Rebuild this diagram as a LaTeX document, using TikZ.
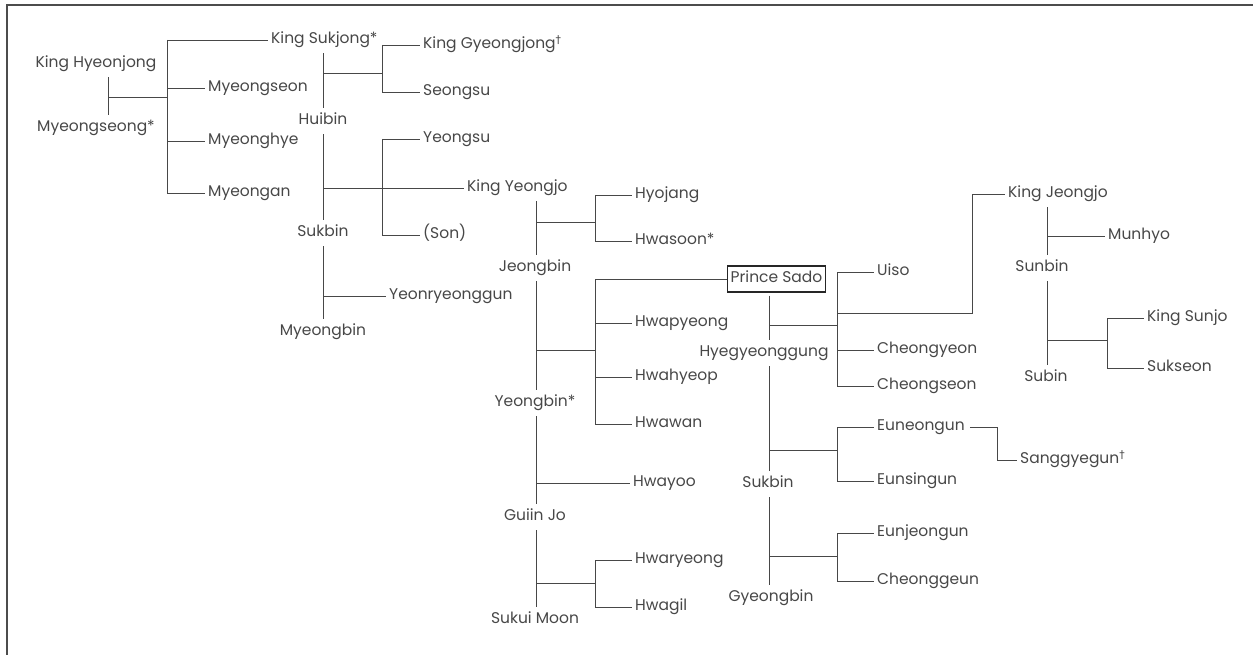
\documentclass[tikz,border=0pt]{standalone}
\usepackage{fontspec}
\setmainfont{Poppins}
\newfontfamily\symfont{DejaVu Sans}
\newcommand{\dg}{\textsuperscript{\symfont †}}
\tikzset{
  person/.style={font=\fontsize{15.5}{18}\selectfont, text=black!72, inner sep=3pt, text height=11pt, text depth=3.5pt},
  kid/.style={person, anchor=west},
  famline/.style={draw=black!72, line width=0.8pt},
  couple/.style={famline, shorten <=3pt, shorten >=3pt},
}
\begin{document}
\begin{tikzpicture}[x=1pt, y=-1pt]
    \useasboundingbox (0,0) rectangle (1253,655);
    % Frame (top and left edge only)
    \draw[black!70, line width=1.5pt] (7,655) -- (7,5) -- (1253,5);

    % Hyeonjong and Myeongseong
    \node[person] (hyeonjong) at (96,64) {King Hyeonjong};
    \node[person] (myeongseong) at (96,128) {Myeongseong*};
    \coordinate (m1) at (108,97);
    \coordinate (b1) at (167,97);
    \node[kid] (sukjong) at (268,40) {King Sukjong*};
    \node[kid] (myeongseon) at (205,88) {Myeongseon};
    \node[kid] (myeonghye) at (205,141) {Myeonghye};
    \node[kid] (myeongan) at (205,193) {Myeongan};

    % Sukjong and his wives
    \node[person] (huibin) at (323,121) {Huibin};
    \node[person] (sukbin) at (323,233) {Sukbin};
    \node[person] (myeongbin) at (323,332) {Myeongbin};
    \coordinate (m2) at (323,73);
    \coordinate (b2) at (382,73);
    \coordinate (m3) at (323,188);
    \coordinate (b3) at (382,188);
    \coordinate (m4) at (323,296);
    \node[kid] (gyeongjong) at (420,45) {King Gyeongjong\dg};
    \node[kid] (seongsu) at (420,92) {Seongsu};
    \node[kid] (yeongsu) at (420,139) {Yeongsu};
    \node[kid] (son) at (420,235) {(Son)};
    \node[kid] (yeongjo) at (464,188) {King Yeongjo};
    \node[kid] (yeonryeong) at (386,296) {Yeonryeonggun};

    % Yeongjo and his wives
    \node[person] (jeongbin) at (535,268) {Jeongbin};
    \node[person] (yeongbin) at (535,403) {Yeongbin*};
    \node[person] (guiin) at (535,517) {Guiin Jo};
    \node[person] (sukui) at (535,620) {Sukui Moon};
    \coordinate (m5) at (536,222);
    \coordinate (b5) at (595,222);
    \coordinate (m6) at (536,350);
    \coordinate (b6) at (595,350);
    \coordinate (m7) at (536,483);
    \coordinate (m8) at (536,583);
    \coordinate (b8) at (595,583);
    \node[kid] (hyojang) at (632,195) {Hyojang};
    \node[kid] (hwasoon) at (632,241) {Hwasoon*};
    \node[kid, draw=black!85, line width=1.4pt, inner xsep=3pt, minimum height=26pt] (sado) at (727,279) {Prince Sado};
    \node[kid] (hwapyeong) at (632,323) {Hwapyeong};
    \node[kid] (hwahyeop) at (632,377) {Hwahyeop};
    \node[kid] (hwawan) at (632,424) {Hwawan};
    \node[kid] (hwayoo) at (630,483) {Hwayoo};
    \node[kid] (hwaryeong) at (632,560) {Hwaryeong};
    \node[kid] (hwagil) at (632,607) {Hwagil};

    % Sado and his wives
    \node[person] (hyegyeong) at (764,353) {Hyegyeonggung};
    \node[person] (sukbinb) at (768,484) {Sukbin};
    \node[person] (gyeongbin) at (771,598) {Gyeongbin};
    \coordinate (m9) at (769,325);
    \coordinate (b9) at (837,325);
    \coordinate (m10) at (769,450);
    \coordinate (b10) at (837,450);
    \coordinate (m11) at (769,556);
    \coordinate (b11) at (837,556);
    \coordinate (j1) at (972,313);
    \coordinate (s1) at (997,460);
    \node[kid] (uiso) at (874,272) {Uiso};
    \node[kid] (jeongjo) at (1005,194) {King Jeongjo};
    \node[kid] (cheongyeon) at (874,350) {Cheongyeon};
    \node[kid] (cheongseon) at (874,386) {Cheongseon};
    \node[kid] (euneongun) at (874,427) {Euneongun};
    \node[kid] (eunsingun) at (874,481) {Eunsingun};
    \node[kid] (sanggyegun) at (1017,460) {Sanggyegun\dg};
    \node[kid] (eunjeongun) at (874,533) {Eunjeongun};
    \node[kid] (cheonggeun) at (874,581) {Cheonggeun};

    % Jeongjo and his wives
    \node[person] (sunbin) at (1042,268) {Sunbin};
    \node[person] (subin) at (1046,378) {Subin};
    \coordinate (m12) at (1047,236);
    \coordinate (m13) at (1047,340);
    \coordinate (b13) at (1107,340);
    \node[kid] (munhyo) at (1105,236) {Munhyo};
    \node[kid] (sunjo) at (1144,318) {King Sunjo};
    \node[kid] (sukseon) at (1144,368) {Sukseon};

    % Marriage lines
    \draw[couple] (m1 |- hyeonjong.south) -- (m1 |- myeongseong.north);
    \draw[couple] (m2 |- sukjong.south) -- (m2 |- huibin.north);
    \draw[couple] (m3 |- huibin.south) -- (m3 |- sukbin.north);
    \draw[couple] (m4 |- sukbin.south) -- (m4 |- myeongbin.north);
    \draw[couple] (m5 |- yeongjo.south) -- (m5 |- jeongbin.north);
    \draw[couple] (m6 |- jeongbin.south) -- (m6 |- yeongbin.north);
    \draw[couple] (m7 |- yeongbin.south) -- (m7 |- guiin.north);
    \draw[couple] (m8 |- guiin.south) -- (m8 |- sukui.north);
    \draw[couple] (m9 |- sado.south) -- (m9 |- hyegyeong.north);
    \draw[couple] (m10 |- hyegyeong.south) -- (m10 |- sukbinb.north);
    \draw[couple] (m11 |- sukbinb.south) -- (m11 |- gyeongbin.north);
    \draw[couple] (m12 |- jeongjo.south) -- (m12 |- sunbin.north);
    \draw[couple] (m13 |- sunbin.south) -- (m13 |- subin.north);

    % Children of Hyeonjong
    \draw[famline] (m1) -- (b1);
    \draw[famline] (b1 |- sukjong) -- (b1 |- myeongan);
    \draw[famline] (b1 |- sukjong) -- (sukjong.west);
    \draw[famline] (b1 |- myeongseon) -- (myeongseon.west);
    \draw[famline] (b1 |- myeonghye) -- (myeonghye.west);
    \draw[famline] (b1 |- myeongan) -- (myeongan.west);

    % Children of Sukjong
    \draw[famline] (m2) -- (b2);
    \draw[famline] (b2 |- gyeongjong) -- (b2 |- seongsu);
    \draw[famline] (b2 |- gyeongjong) -- (gyeongjong.west);
    \draw[famline] (b2 |- seongsu) -- (seongsu.west);
    \draw[famline] (m3) -- (yeongjo.west);
    \draw[famline] (b3 |- yeongsu) -- (b3 |- son);
    \draw[famline] (b3 |- yeongsu) -- (yeongsu.west);
    \draw[famline] (b3 |- son) -- (son.west);
    \draw[famline] (m4) -- (yeonryeong.west);

    % Children of Yeongjo
    \draw[famline] (m5) -- (b5);
    \draw[famline] (b5 |- hyojang) -- (b5 |- hwasoon);
    \draw[famline] (b5 |- hyojang) -- (hyojang.west);
    \draw[famline] (b5 |- hwasoon) -- (hwasoon.west);
    \draw[famline] (m6) -- (b6);
    \draw[famline] (b6 |- sado) -- (b6 |- hwawan);
    \draw[famline] (b6 |- sado) -- (sado.west);
    \draw[famline] (b6 |- hwapyeong) -- (hwapyeong.west);
    \draw[famline] (b6 |- hwahyeop) -- (hwahyeop.west);
    \draw[famline] (b6 |- hwawan) -- (hwawan.west);
    \draw[famline] (m7) -- (hwayoo.west);
    \draw[famline] (m8) -- (b8);
    \draw[famline] (b8 |- hwaryeong) -- (b8 |- hwagil);
    \draw[famline] (b8 |- hwaryeong) -- (hwaryeong.west);
    \draw[famline] (b8 |- hwagil) -- (hwagil.west);

    % Children of Sado
    \draw[famline] (m9) -- (b9);
    \draw[famline] (b9 |- uiso) -- (b9 |- cheongseon);
    \draw[famline] (b9 |- uiso) -- (uiso.west);
    \draw[famline] (b9 |- j1) -- (j1) |- (jeongjo.west);
    \draw[famline] (b9 |- cheongyeon) -- (cheongyeon.west);
    \draw[famline] (b9 |- cheongseon) -- (cheongseon.west);
    \draw[famline] (m10) -- (b10);
    \draw[famline] (b10 |- euneongun) -- (b10 |- eunsingun);
    \draw[famline] (b10 |- euneongun) -- (euneongun.west);
    \draw[famline] (b10 |- eunsingun) -- (eunsingun.west);
    \draw[famline, shorten <=2pt] (euneongun.east) -| (s1) -- (sanggyegun.west);
    \draw[famline] (m11) -- (b11);
    \draw[famline] (b11 |- eunjeongun) -- (b11 |- cheonggeun);
    \draw[famline] (b11 |- eunjeongun) -- (eunjeongun.west);
    \draw[famline] (b11 |- cheonggeun) -- (cheonggeun.west);

    % Children of Jeongjo
    \draw[famline] (m12) -- (munhyo.west);
    \draw[famline] (m13) -- (b13);
    \draw[famline] (b13 |- sunjo) -- (b13 |- sukseon);
    \draw[famline] (b13 |- sunjo) -- (sunjo.west);
    \draw[famline] (b13 |- sukseon) -- (sukseon.west);
\end{tikzpicture}
\end{document}
